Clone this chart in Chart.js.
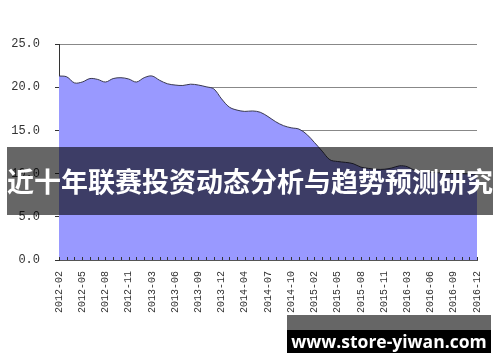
<!DOCTYPE html>
<html>
<head>
<meta charset="utf-8">
<script src="https://cdn.jsdelivr.net/npm/chart.js@4.4.1/dist/chart.umd.min.js"></script>
<style>
html,body{margin:0;padding:0;background:#fff;}
#wrap{position:relative;width:500px;height:362px;overflow:hidden;}
#c{position:absolute;left:0;top:0;}
#banner{position:absolute;left:7px;top:147px;width:486px;height:68px;background:rgba(0,0,0,0.6);}
#bannerText{position:absolute;left:0;top:19px;width:486px;text-align:center;color:#fff;font:bold 27px "Noto Sans CJK SC";line-height:30px;white-space:nowrap;}
#wmTop{position:absolute;left:287px;top:315px;width:204px;height:15px;background:rgba(0,0,0,0.6);}
#wm{position:absolute;left:287px;top:330px;width:204px;height:23px;background:#000;color:#fff;font:bold 17.5px "Open Sans";line-height:22px;text-align:center;white-space:nowrap;}
</style>
</head>
<body>
<div id="wrap">
<canvas id="c" width="500" height="362"></canvas>
<div id="banner"><div id="bannerText">近十年联赛投资动态分析与趋势预测研究</div></div>
<div id="wmTop"></div>
<div id="wm">www.store-yiwan.com</div>
</div>
<script>
const categories = [
 "2012-02","2012-03","2012-04","2012-05","2012-06","2012-07","2012-08","2012-09","2012-10","2012-11","2012-12",
 "2013-02","2013-03","2013-04","2013-05","2013-06","2013-07","2013-08","2013-09","2013-10","2013-11","2013-12",
 "2014-02","2014-03","2014-04","2014-05","2014-06","2014-07","2014-08","2014-09","2014-10","2014-11","2014-12",
 "2015-02","2015-03","2015-04","2015-05","2015-06","2015-07","2015-08","2015-09","2015-10","2015-11","2015-12",
 "2016-02","2016-03","2016-04","2016-05","2016-06","2016-07","2016-08","2016-09","2016-10","2016-11","2016-12"
];
const values = [
 21.3,21.2,20.5,20.6,21.0,20.9,20.6,21.0,21.1,20.95,20.6,
 21.1,21.3,20.8,20.4,20.25,20.2,20.35,20.25,20.05,19.8,18.65,
 17.7,17.35,17.2,17.25,17.1,16.6,16.0,15.55,15.3,15.15,14.55,
 13.6,12.6,11.6,11.4,11.3,11.15,10.75,10.6,10.5,10.5,10.65,
 10.9,10.8,10.35,10.25,10.15,10.1,10.05,10.0,10.0,9.95,9.9
];
const tickLabels = ["2012-02","2012-05","2012-08","2012-11","2013-03","2013-06","2013-09","2013-12","2014-04","2014-07","2014-10","2015-02","2015-05","2015-08","2015-11","2016-03","2016-06","2016-09","2016-12"];
const yTicks = [0,5,10,15,20,25];

const innerTicks = {
  id:'innerTicks',
  afterDatasetsDraw(chart){
    const x = chart.scales.x, ctx = chart.ctx;
    const b = chart.chartArea.bottom;
    ctx.save();
    ctx.strokeStyle = '#333';
    ctx.lineWidth = 1;
    ctx.beginPath();
    for(let i=0;i<categories.length;i++){
      const px = Math.round(x.getPixelForValue(i))+0.5;
      ctx.moveTo(px,b);
      ctx.lineTo(px,b-3);
    }
    ctx.stroke();
    ctx.restore();
  }
};

new Chart(document.getElementById('c'),{
  type:'line',
  data:{labels:categories,datasets:[{
    data:values,
    fill:'origin',
    backgroundColor:'#9999ff',
    borderColor:'#3a3a50',
    borderWidth:1,
    pointRadius:0,
    tension:0.35
  }]},
  options:{
    responsive:false,
    animation:false,
    events:[],
    layout:{padding:{left:0,right:18,top:44,bottom:0}},
    plugins:{legend:{display:false},tooltip:{enabled:false}},
    scales:{
      x:{
        offset:false,
        grid:{display:true,drawOnChartArea:false,drawTicks:false},
        border:{display:true,color:'#555',width:1},
        ticks:{
          autoSkip:false,maxRotation:90,minRotation:90,padding:11,
          color:'#333',font:{family:'Liberation Mono',size:10},
          callback:function(v,i){const l=categories[i];return tickLabels.includes(l)?l:'';}
        },
        afterFit(s){s.height=102;}
      },
      y:{
        min:0,max:25,
        afterBuildTicks(s){s.ticks=yTicks.map(v=>({value:v}));},
        grid:{color:'#888',tickLength:4,drawTicks:true,tickColor:'#333'},
        border:{display:true,color:'#333',width:1},
        ticks:{padding:15,color:'#333',font:{family:'Liberation Mono',size:12},
          callback:v=>v.toFixed(1)},
        afterFit(s){s.width=59;}
      }
    }
  },
  plugins:[innerTicks]
});
</script>
</body>
</html>
